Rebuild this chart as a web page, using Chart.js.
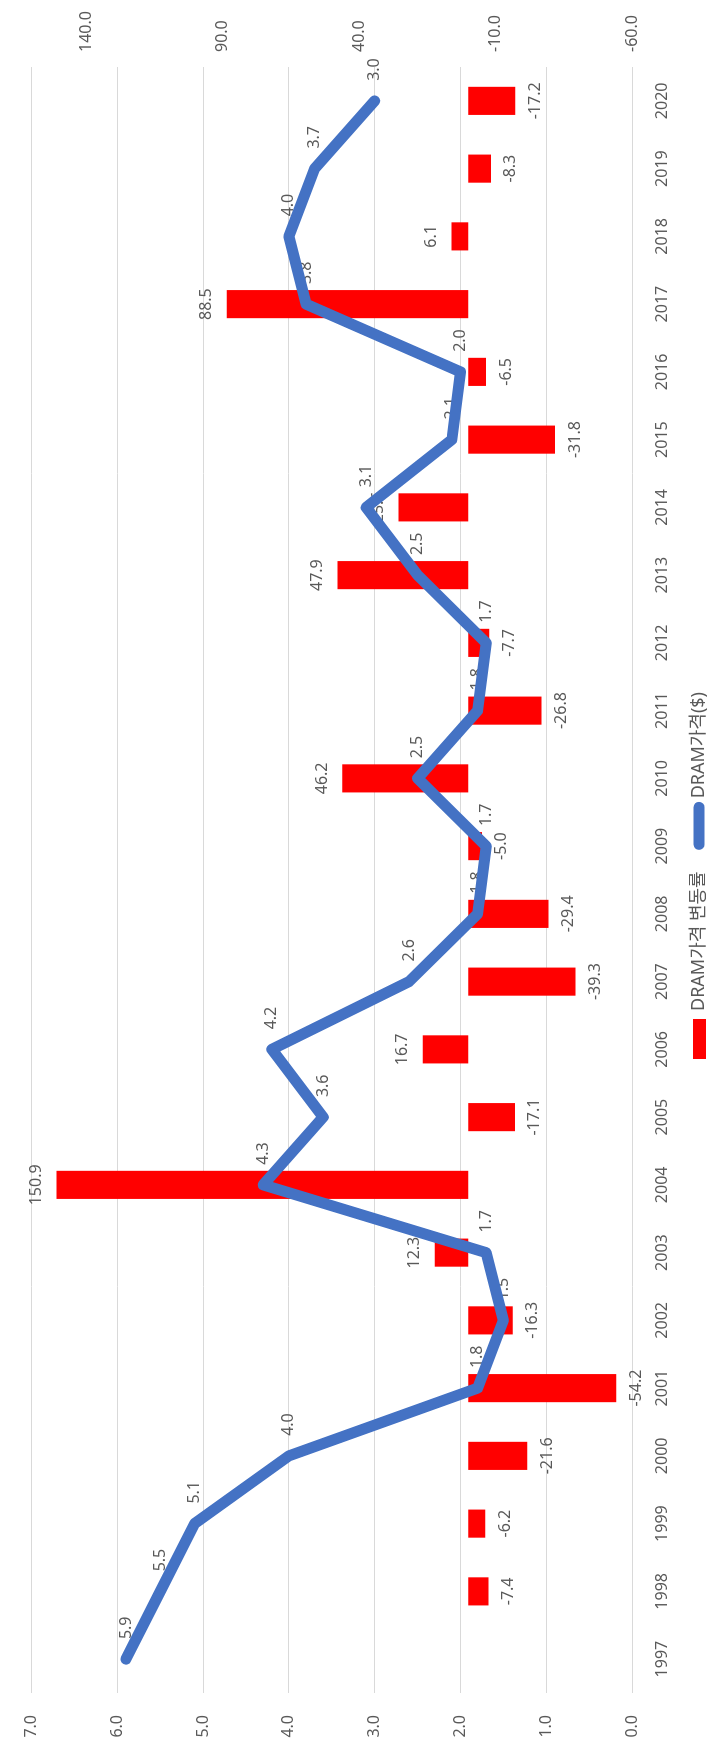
<!DOCTYPE html>
<html>
<head>
<meta charset="utf-8">
<script src="https://cdn.jsdelivr.net/npm/chart.js@4"></script>
<style>
  html, body { margin: 0; padding: 0; background: #fff; }
  body { width: 709px; height: 1748px; overflow: hidden; position: relative; }
  /* the chart is drawn landscape and turned a quarter to the left */
  #wrap {
    position: absolute; left: 0; top: 0;
    width: 1748px; height: 709px;
    transform-origin: 0 0;
    transform: translateY(1748px) rotate(-90deg);
  }
</style>
</head>
<body>
<div id="wrap"><canvas id="chart" width="1748" height="709"></canvas></div>
<script>
// data
const years = ['1997','1998','1999','2000','2001','2002','2003','2004','2005','2006','2007','2008',
               '2009','2010','2011','2012','2013','2014','2015','2016','2017','2018','2019','2020'];
const priceChange = [null, -7.4, -6.2, -21.6, -54.2, -16.3, 12.3, 150.9, -17.1, 16.7, -39.3, -29.4,
                     -5.0, 46.2, -26.8, -7.7, 47.9, 25.6, -31.8, -6.5, 88.5, 6.1, -8.3, -17.2];
const price = [5.9, 5.5, 5.1, 4.0, 1.8, 1.5, 1.7, 4.3, 3.6, 4.2, 2.6, 1.8,
               1.7, 2.5, 1.8, 1.7, 2.5, 3.1, 2.1, 2.0, 3.8, 4.0, 3.7, 3.0];
const leftTicks = [0, 1, 2, 3, 4, 5, 6, 7];
const rightTicks = [-60, -10, 40, 90, 140];

const FONT = '"Noto Sans", "Noto Sans CJK KR", sans-serif';
const TXT = '#595959';
const BAR_LABEL = 'DRAM가격 변동률';
const LINE_LABEL = 'DRAM가격($)';

// value labels: bars + line labels go under the line, like the original
const valueLabels = {
    id: 'valueLabels',
    afterDatasetDraw(chart, args) {
        if (args.index !== 1) return;
        const ctx = chart.ctx;
        ctx.save();
        ctx.font = '16px ' + FONT;
        ctx.fillStyle = TXT;
        ctx.textBaseline = 'middle';

        ctx.textAlign = 'center';
        chart.getDatasetMeta(1).data.forEach((el, i) => {
            const v = priceChange[i];
            if (v === null) return;
            const y = v >= 0 ? el.y - 20 : el.y + 20;
            ctx.fillText(v.toFixed(1), el.x, y);
        });

        ctx.textAlign = 'left';
        chart.getDatasetMeta(0).data.forEach((el, i) => {
            ctx.fillText(price[i].toFixed(1), el.x + 20, el.y);
        });
        ctx.restore();
    }
};

// legend drawn by hand so it sits where the original has it
const bottomLegend = {
    id: 'bottomLegend',
    afterDraw(chart) {
        const ctx = chart.ctx;
        const y = 699;
        ctx.save();
        ctx.font = '18px ' + FONT;
        ctx.textBaseline = 'middle';
        ctx.textAlign = 'left';

        let x = 689;
        ctx.fillStyle = '#FF0000';
        ctx.fillRect(x, y - 6, 40, 13);
        x += 48;
        ctx.fillStyle = TXT;
        ctx.fillText(BAR_LABEL, x, y);
        x += ctx.measureText(BAR_LABEL).width + 22;

        ctx.strokeStyle = '#4472C4';
        ctx.lineWidth = 11;
        ctx.lineCap = 'round';
        ctx.beginPath();
        ctx.moveTo(x + 5, y);
        ctx.lineTo(x + 42, y);
        ctx.stroke();
        x += 51;
        ctx.fillText(LINE_LABEL, x, y);
        ctx.restore();
    }
};

const ctx = document.getElementById('chart').getContext('2d');
new Chart(ctx, {
    data: {
        labels: years,
        datasets: [
            {
                type: 'line',
                label: LINE_LABEL,
                data: price,
                yAxisID: 'y',
                borderColor: '#4472C4',
                borderWidth: 11,
                borderCapStyle: 'round',
                borderJoinStyle: 'round',
                pointRadius: 0,
                tension: 0,
                order: 0
            },
            {
                type: 'bar',
                label: BAR_LABEL,
                data: priceChange,
                yAxisID: 'y2',
                backgroundColor: '#FF0000',
                categoryPercentage: 1,
                barPercentage: 0.415,
                order: 1
            }
        ]
    },
    options: {
        responsive: false,
        devicePixelRatio: 1,
        animation: false,
        layout: { padding: { top: 22, left: 0, right: 0, bottom: 0 } },
        plugins: {
            legend: { display: false },
            tooltip: { enabled: false }
        },
        scales: {
            x: {
                grid: { display: false },
                border: { display: false },
                ticks: { color: TXT, font: { family: FONT, size: 16 }, padding: 13, maxRotation: 0, autoSkip: false },
                afterFit: s => { s.height = 77; }
            },
            y: {
                position: 'left',
                min: 0, max: 7,
                grid: { color: '#D9D9D9', lineWidth: 1, drawTicks: false },
                border: { display: false },
                ticks: { color: TXT, font: { family: FONT, size: 16 }, padding: 22,
                         callback: v => Number(v).toFixed(1) },
                afterBuildTicks: s => { s.ticks = leftTicks.map(v => ({ value: v })); },
                afterFit: s => { s.width = 55; }
            },
            y2: {
                position: 'right',
                min: -60, max: 160,
                grid: { display: false, drawTicks: false },
                border: { display: false },
                ticks: { color: TXT, font: { family: FONT, size: 16 }, padding: 15,
                         callback: v => Number(v).toFixed(1) },
                afterBuildTicks: s => { s.ticks = rightTicks.map(v => ({ value: v })); },
                afterFit: s => { s.width = 67; }
            }
        }
    },
    plugins: [valueLabels, bottomLegend]
});
</script>
</body>
</html>
